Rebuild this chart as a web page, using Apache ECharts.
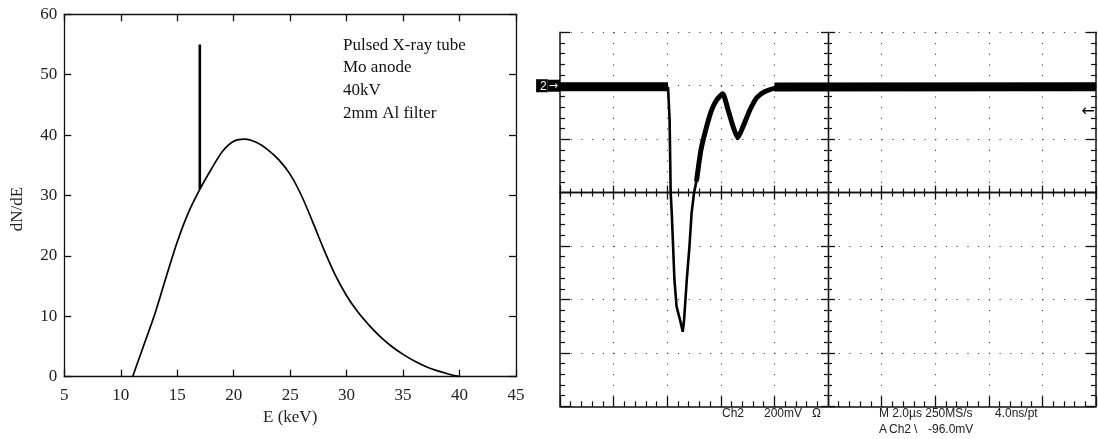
<!DOCTYPE html>
<html><head><meta charset="utf-8">
<script src="https://cdn.jsdelivr.net/npm/echarts@6/dist/echarts.min.js"></script>
<style>html,body{margin:0;padding:0;background:#fff}#c{width:1098px;height:439px}</style>
</head><body><div id="c"></div>
<script>
// ---- Left panel: X-ray spectrum ----
const energyKeV = [11.05, 12, 13, 14, 15, 16, 17, 18, 19, 20, 21, 22, 23, 24, 25, 26, 27, 28, 29, 30, 31, 32, 33, 34, 35, 36, 37, 38, 39, 40];
const dNdE      = [0, 5, 10.3, 16.4, 22.3, 27.2, 31, 34.3, 37.3, 39.0, 39.35, 38.8, 37.6, 35.9, 33.5, 30.0, 25.6, 21.0, 16.8, 13.4, 10.7, 8.5, 6.6, 5.0, 3.7, 2.6, 1.7, 1.0, 0.45, 0];
const kLineEnergy = [17, 17];
const kLineValue  = [31, 55];
const annotationLines = ['Pulsed X-ray tube', 'Mo anode', '40kV', '2mm Al filter'];

// ---- Right panel: oscilloscope trace (time in µs, voltage in mV) ----
const baseLeftTime = [0, 4.03];
const baseLeftMv   = [-4, -4];
const pulseTime = [4.03, 4.09, 4.13, 4.17, 4.27, 4.35, 4.48, 4.58, 4.63, 4.73, 4.83, 4.91, 5.0, 5.1, 5.26];
const pulseMv   = [-4, -128, -401, -476, -727, -827, -877, -921, -877, -727, -602, -477, -402, -352, -240];
const recoveryTime = [5.1, 5.26, 5.47, 5.66, 5.85, 6.07, 6.27, 6.46, 6.63, 6.83, 7.09, 7.34, 7.65, 8.09, 8.96];
const recoveryMv   = [-352, -240, -153, -90, -53, -30, -90, -153, -195, -153, -90, -45, -22, -8, -4];
const baseRightTime = [8.0, 20];
const baseRightMv   = [-5, -4];
const groundLevelMv = 0;
const triggerLevelMv = -96;
const readoutLine1 = ['Ch2', '200mV', 'Ω', 'M 2.0µs 250MS/s', '4.0ns/pt'];
const readoutLine2 = ['A', 'Ch2', '\\', '-96.0mV'];

const zip = (a, b) => a.map((v, i) => [v, b[i]]);
const serif = "'Liberation Serif', 'DejaVu Serif', serif";
const narrow = "'Liberation Sans Narrow', 'Liberation Sans', sans-serif";
const ink = '#111';

const chart = echarts.init(document.getElementById('c'));

const scopeX = {gridIndex: 1, type: 'value', min: 0, max: 20, interval: 2};
const scopeY = {gridIndex: 1, type: 'value', min: -1200, max: 200, interval: 200};
const lineS = w => ({color: ink, width: w});

const readPos1 = [722, 764, 812, 879, 995];
const readPos2 = [879, 889, 914, 928];
const titles = [{
  text: annotationLines.join('\n'), left: 343, top: 34, padding: 0,
  textStyle: {fontFamily: serif, fontSize: 17, fontWeight: 'normal', color: '#111', lineHeight: 22.6}
}];
readoutLine1.forEach((t, i) => titles.push({text: t, left: readPos1[i], top: 408, padding: 0,
  textStyle: {fontFamily: narrow, fontSize: 12, fontWeight: 'normal', color: '#222'}}));
readoutLine2.forEach((t, i) => titles.push({text: t, left: readPos2[i], top: 424, padding: 0,
  textStyle: {fontFamily: narrow, fontSize: 12, fontWeight: 'normal', color: '#222'}}));

chart.setOption({
  animation: false,
  backgroundColor: '#fff',
  title: titles,
  graphic: [{
    type: 'text', x: 18, y: 209, rotation: Math.PI / 2,
    style: {text: 'dN/dE', font: "17px 'Liberation Serif'", fill: '#222', textAlign: 'center', textVerticalAlign: 'middle'}
  }],
  grid: [
    {left: 64.3, top: 14.3, width: 451.7, height: 362.4},
    {left: 560, top: 32.3, width: 536, height: 374}
  ],
  xAxis: [
    {gridIndex: 0, type: 'value', position: 'bottom', min: 5, max: 45, interval: 5,
     axisLine: {onZero: false, lineStyle: lineS(1.3)}, axisTick: {inside: true, length: 7, lineStyle: lineS(1.3)},
     axisLabel: {margin: 10, fontFamily: serif, fontSize: 17, color: '#222'}, splitLine: {show: false},
     name: 'E (keV)', nameLocation: 'middle', nameGap: 31, nameTextStyle: {fontFamily: serif, fontSize: 17, color: '#222'}},
    {gridIndex: 0, type: 'value', position: 'top', min: 5, max: 45, interval: 5,
     axisLine: {onZero: false, lineStyle: lineS(1.3)}, axisTick: {inside: true, length: 7, lineStyle: lineS(1.3)},
     axisLabel: {show: false}, splitLine: {show: false}},
    Object.assign({}, scopeX, {position: 'bottom',
     axisLine: {onZero: false, lineStyle: lineS(1.5)}, axisTick: {inside: true, length: 10, lineStyle: lineS(1.3)},
     minorTick: {show: true, splitNumber: 5, length: 5, lineStyle: lineS(1.2)},
     axisLabel: {show: false}, splitLine: {show: true, lineStyle: {type: [1.2, 9.48], color: '#444', width: 1}}}),
    Object.assign({}, scopeX, {position: 'bottom',
     axisLine: {onZero: true, onZeroAxisIndex: 6, lineStyle: lineS(1.3)}, axisTick: {inside: true, length: 7, lineStyle: lineS(1.3)},
     minorTick: {show: true, splitNumber: 5, length: 4, lineStyle: lineS(1.2)},
     axisLabel: {show: false}, splitLine: {show: false}}),
    Object.assign({}, scopeX, {position: 'bottom',
     axisLine: {onZero: true, onZeroAxisIndex: 6, lineStyle: lineS(1.3)}, axisTick: {inside: false, length: 7, lineStyle: lineS(1.3)},
     minorTick: {show: true, splitNumber: 5, length: 4, lineStyle: lineS(1.2)},
     axisLabel: {show: false}, splitLine: {show: false}}),
    {gridIndex: 1, type: 'value', position: 'top', min: -5, max: 5, show: false}
  ],
  yAxis: [
    {gridIndex: 0, type: 'value', position: 'left', min: 0, max: 60, interval: 10,
     axisLine: {onZero: false, lineStyle: lineS(1.3)}, axisTick: {inside: true, length: 7, lineStyle: lineS(1.3)},
     axisLabel: {margin: 7, fontFamily: serif, fontSize: 17, color: '#222'}, splitLine: {show: false}},
    {gridIndex: 0, type: 'value', position: 'right', min: 0, max: 60, interval: 10,
     axisLine: {onZero: false, lineStyle: lineS(1.3)}, axisTick: {inside: true, length: 7, lineStyle: lineS(1.3)},
     axisLabel: {show: false}, splitLine: {show: false}},
    Object.assign({}, scopeY, {position: 'left',
     axisLine: {onZero: false, lineStyle: lineS(1.5)}, axisTick: {inside: true, length: 10, lineStyle: lineS(1.3)},
     minorTick: {show: true, splitNumber: 5, length: 5, lineStyle: lineS(1.2)},
     axisLabel: {margin: 0, formatter: v => v === groundLevelMv ? '{m|2}{a|→}' : '',
       rich: {m: {backgroundColor: '#000', color: '#fff', fontFamily: narrow, fontSize: 12, padding: [1, 1, 0, 4]},
              a: {backgroundColor: '#000', color: '#fff', fontFamily: "'DejaVu Sans'", fontSize: 11, padding: [1, 2, 0, 1]}}},
     splitLine: {show: true, lineStyle: {type: [1.2, 9.52], color: '#444', width: 1}}}),
    Object.assign({}, scopeY, {position: 'right',
     axisLine: {onZero: false, lineStyle: lineS(1.5)}, axisTick: {inside: true, length: 10, lineStyle: lineS(1.3)},
     minorTick: {show: true, splitNumber: 5, length: 5, lineStyle: lineS(1.2)},
     axisLabel: {show: false}, splitLine: {show: false}}),
    Object.assign({}, scopeY, {position: 'left',
     axisLine: {onZero: true, onZeroAxisIndex: 5, lineStyle: lineS(1.3)}, axisTick: {inside: true, length: 7, lineStyle: lineS(1.3)},
     minorTick: {show: true, splitNumber: 5, length: 4, lineStyle: lineS(1.2)},
     axisLabel: {show: false}, splitLine: {show: false}}),
    Object.assign({}, scopeY, {position: 'left',
     axisLine: {onZero: true, onZeroAxisIndex: 5, lineStyle: lineS(1.3)}, axisTick: {inside: false, length: 7, lineStyle: lineS(1.3)},
     minorTick: {show: true, splitNumber: 5, length: 4, lineStyle: lineS(1.2)},
     axisLabel: {show: false}, splitLine: {show: false}}),
    {gridIndex: 1, type: 'value', position: 'right', min: -4, max: 3, show: false}
  ],
  series: [
    {type: 'line', name: 'spectrum', xAxisIndex: 0, yAxisIndex: 0, data: zip(energyKeV, dNdE),
     showSymbol: false, smooth: 0.3, lineStyle: {color: '#000', width: 1.7}},
    {type: 'line', name: 'K line', xAxisIndex: 0, yAxisIndex: 0, data: zip(kLineEnergy, kLineValue),
     showSymbol: false, lineStyle: {color: '#000', width: 2.6, cap: 'butt'}},
    {type: 'line', name: 'baseline pre', xAxisIndex: 2, yAxisIndex: 2, data: zip(baseLeftTime, baseLeftMv),
     showSymbol: false, lineStyle: {color: '#000', width: 9, cap: 'butt'}},
    {type: 'line', name: 'pulse', xAxisIndex: 2, yAxisIndex: 2, data: zip(pulseTime, pulseMv),
     showSymbol: false, lineStyle: {color: '#000', width: 2.6}},
    {type: 'line', name: 'recovery', xAxisIndex: 2, yAxisIndex: 2, data: zip(recoveryTime, recoveryMv),
     showSymbol: false, smooth: 0.2, lineStyle: {color: '#000', width: 5, join: 'round', cap: 'round'}},
    {type: 'line', name: 'baseline post', xAxisIndex: 2, yAxisIndex: 2, data: zip(baseRightTime, baseRightMv),
     showSymbol: false, lineStyle: {color: '#000', width: 9, cap: 'butt'},
     markPoint: {symbol: 'rect', symbolSize: 1, itemStyle: {color: 'rgba(0,0,0,0)'},
       label: {show: true, position: 'left', distance: 0, formatter: '←', color: '#000', fontFamily: "'DejaVu Sans'", fontSize: 16},
       data: [{coord: [19.97, triggerLevelMv]}]}}
  ]
});
</script></body></html>
